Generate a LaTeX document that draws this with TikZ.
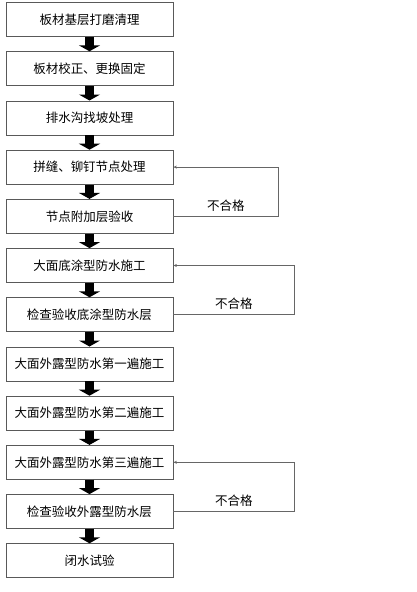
\documentclass[tikz,border=0pt]{standalone}
\usepackage{fontspec}
\setmainfont{Noto Sans CJK SC}
\usetikzlibrary{arrows.meta, positioning}

\tikzset{
  stepbox/.style={draw=black!65, line width=0.8pt, minimum width=167pt, minimum height=34pt,
    inner sep=2pt, font=\fontsize{12.5pt}{14pt}\selectfont},
  flowarrow/.style={line width=9pt, -{Triangle[width=21pt,length=6pt]}},
  backline/.style={draw=black!60, line width=0.8pt, -{Stealth[length=3.5pt,width=3pt]}},
  failtext/.style={above=1pt, font=\fontsize{12.5pt}{14pt}\selectfont}
}

\begin{document}
\begin{tikzpicture}[x=1pt, y=1pt, node distance=14.4pt]
  \useasboundingbox (0,0) rectangle (416,-592);

  % main steps
  \node[stepbox] (b1) at (89.5,-19.5) {板材基层打磨清理};
  \node[stepbox, below=of b1] (b2) {板材校正、更换固定};
  \node[stepbox, below=of b2] (b3) {排水沟找坡处理};
  \node[stepbox, below=of b3] (b4) {拼缝、铆钉节点处理};
  \node[stepbox, below=of b4] (b5) {节点附加层验收};
  \node[stepbox, below=of b5] (b6) {大面底涂型防水施工};
  \node[stepbox, below=of b6] (b7) {检查验收底涂型防水层};
  \node[stepbox, below=of b7] (b8) {大面外露型防水第一遍施工};
  \node[stepbox, below=of b8] (b9) {大面外露型防水第二遍施工};
  \node[stepbox, below=of b9] (b10) {大面外露型防水第三遍施工};
  \node[stepbox, below=of b10] (b11) {检查验收外露型防水层};
  \node[stepbox, below=of b11] (b12) {闭水试验};

  % arrows between steps
  \foreach \a/\b in {1/2,2/3,3/4,4/5,5/6,6/7,7/8,8/9,9/10,10/11,11/12}
    \draw[flowarrow] (b\a) -- (b\b);

  % return loops
  \draw[backline] (b5.east) -- node[failtext] {不合格} ++(105,0) |- (b4.east);
  \draw[backline] (b7.east) -- node[failtext] {不合格} ++(121,0) |- (b6.east);
  \draw[backline] (b11.east) -- node[failtext] {不合格} ++(121,0) |- (b10.east);
\end{tikzpicture}
\end{document}
